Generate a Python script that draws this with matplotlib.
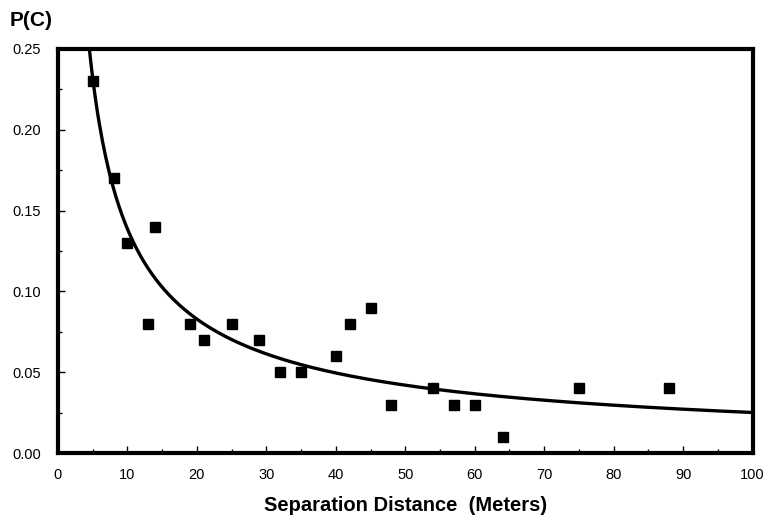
import numpy as np
import matplotlib
matplotlib.use("Agg")
import matplotlib.pyplot as plt
from matplotlib.ticker import MultipleLocator, FormatStrFormatter

plt.rcParams['font.family'] = ['Liberation Sans', 'DejaVu Sans']

# Observed points
sep_distance = [5, 8, 10, 13, 14, 19, 21, 25, 29, 32, 35, 40, 42, 45, 48, 54, 57, 60, 64, 75, 88]
p_c = [0.23, 0.17, 0.13, 0.08, 0.14, 0.08, 0.07, 0.08, 0.07, 0.05, 0.05, 0.06, 0.08, 0.09,
       0.03, 0.04, 0.03, 0.03, 0.01, 0.04, 0.04]

# Fitted power curve P = a * d^(-b), parameters
fit_a = 0.765
fit_b = 0.742

fig = plt.figure(figsize=(7.65, 5.19), dpi=100)
ax = fig.add_axes([0.0758, 0.127, 0.908, 0.779])

d = np.linspace(4.0, 100, 400)
ax.plot(d, fit_a * d ** (-fit_b), color='black', lw=2.4, zorder=2)
ax.plot(sep_distance, p_c, 's', color='black', ms=6.5, zorder=3)

ax.set_xlim(0, 100)
ax.set_ylim(0, 0.25)
ax.xaxis.set_major_locator(MultipleLocator(10))
ax.xaxis.set_minor_locator(MultipleLocator(5))
ax.yaxis.set_major_locator(MultipleLocator(0.05))
ax.yaxis.set_minor_locator(MultipleLocator(0.025))
ax.yaxis.set_major_formatter(FormatStrFormatter('%.2f'))
ax.tick_params(which='major', direction='in', length=5, width=1, labelsize=10.5, pad=12)
ax.tick_params(which='minor', direction='in', length=3, width=1)
ax.tick_params(axis='x', pad=11)
for s in ax.spines.values():
    s.set_linewidth(3)

ax.set_xlabel('Separation Distance  (Meters)', fontsize=14.5, fontweight='bold', labelpad=10)
fig.text(0.012, 0.961, 'P(C)', fontsize=15, fontweight='bold', ha='left', va='center')

fig.savefig('out.png', dpi=100)
